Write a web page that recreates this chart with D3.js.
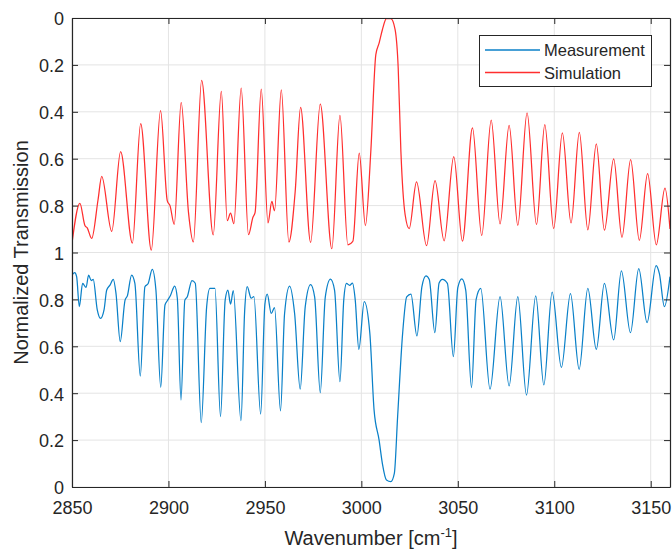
<!DOCTYPE html>
<html>
<head>
<meta charset="utf-8">
<script src="https://cdn.jsdelivr.net/npm/d3@7"></script>
<style>
  html, body { margin: 0; padding: 0; background: #fff; }
  svg { display: block; font-family: "Liberation Sans", Arial, Helvetica, sans-serif; }
</style>
</head>
<body>
<svg id="chart" width="672" height="549"></svg>
<script>
// Simulated spectrum (transmission), plotted inverted in the upper half
const simWavenumber = [
  2850.0, 2854.1, 2856.7, 2857.9, 2860.2, 2863.5, 2865.4, 2870.6, 2875.2, 2881.3,
  2885.6, 2891.1, 2895.9, 2899.4, 2900.8, 2903.0, 2906.6, 2910.4, 2912.9, 2917.2,
  2923.2, 2927.4, 2930.5, 2932.2, 2933.9, 2937.7, 2941.5, 2943.8, 2944.9, 2948.1,
  2951.6, 2953.6, 2955.0, 2958.5, 2962.4, 2965.7, 2968.5, 2973.7, 2978.7, 2984.7,
  2988.9, 2993.0, 2995.6, 2998.9, 3002.1, 3004.9, 3007.5, 3009.2, 3010.9, 3013.0,
  3015.3, 3017.5, 3019.1, 3020.5, 3022.7, 3024.8, 3028.6, 3033.8, 3038.2, 3042.9,
  3047.9, 3052.4, 3057.6, 3062.4, 3067.3, 3071.9, 3076.6, 3081.1, 3085.9, 3090.8,
  3095.1, 3099.7, 3104.2, 3108.7, 3113.0, 3117.4, 3121.8, 3126.0, 3130.8, 3135.1,
  3139.6, 3144.1, 3148.4, 3152.9, 3157.4, 3160.0
];
const simTransmission = [
  0.96, 0.79, 0.885, 0.895, 0.94, 0.775, 0.675, 0.91, 0.57, 0.96,
  0.45, 0.99, 0.395, 0.78, 0.80, 0.88, 0.36, 0.83, 0.955, 0.266,
  0.925, 0.313, 0.864, 0.832, 0.877, 0.299, 0.924, 0.85, 0.83, 0.303,
  0.874, 0.782, 0.822, 0.306, 0.955, 0.74, 0.381, 0.957, 0.367, 0.984,
  0.415, 0.967, 0.952, 0.576, 0.885, 0.569, 0.156, 0.107, 0.05, 0.003,
  0.003, 0.05, 0.213, 0.569, 0.839, 0.898, 0.699, 0.971, 0.694, 0.95,
  0.591, 0.952, 0.469, 0.928, 0.435, 0.878, 0.458, 0.884, 0.405, 0.881,
  0.455, 0.898, 0.49, 0.874, 0.488, 0.903, 0.537, 0.905, 0.601, 0.935,
  0.604, 0.948, 0.664, 0.967, 0.725, 0.90
];

// Measured spectrum (transmission), plotted in the lower half
const measWavenumber = [
  2850.0, 2851.4, 2852.4, 2853.8, 2855.5, 2857.3, 2858.6, 2860.0, 2861.0, 2863.1,
  2864.8, 2866.6, 2868.0, 2869.7, 2871.4, 2872.8, 2875.0, 2877.5, 2878.7, 2880.9,
  2882.6, 2885.4, 2887.8, 2889.5, 2891.6, 2893.5, 2896.0, 2898.2, 2899.4, 2901.1,
  2903.2, 2904.6, 2906.5, 2908.5, 2909.7, 2912.2, 2913.9, 2917.0, 2919.8, 2921.5,
  2924.1, 2927.0, 2929.4, 2930.8, 2932.2, 2933.6, 2937.6, 2939.5, 2940.8, 2942.9,
  2944.3, 2947.8, 2950.0, 2951.2, 2953.3, 2955.0, 2958.1, 2960.2, 2962.8, 2965.4,
  2968.3, 2970.9, 2973.7, 2975.8, 2978.7, 2981.3, 2984.0, 2986.1, 2988.9, 2990.9,
  2992.3, 2993.9, 2995.4, 2996.8, 2998.7, 3001.5, 3004.4, 3006.6, 3009.2, 3010.9,
  3013.0, 3015.3, 3017.1, 3018.8, 3021.4, 3023.5, 3025.7, 3028.8, 3031.4, 3033.5,
  3035.2, 3038.1, 3040.3, 3042.0, 3044.6, 3047.7, 3050.0, 3052.1, 3054.1, 3057.1,
  3059.5, 3061.9, 3066.7, 3071.9, 3076.6, 3081.1, 3085.6, 3090.4, 3094.6, 3098.9,
  3103.7, 3108.4, 3112.9, 3117.4, 3121.8, 3126.0, 3130.8, 3134.8, 3139.5, 3143.8,
  3148.1, 3152.8, 3154.5, 3157.1, 3160.0
];
const measTransmission = [
  0.904, 0.914, 0.897, 0.769, 0.868, 0.851, 0.904, 0.880, 0.885, 0.755,
  0.719, 0.755, 0.84, 0.861, 0.885, 0.826, 0.62, 0.797, 0.815, 0.904,
  0.868, 0.473, 0.854, 0.868, 0.928, 0.84, 0.425, 0.776, 0.794, 0.818,
  0.857, 0.805, 0.371, 0.797, 0.81, 0.880, 0.869, 0.274, 0.768, 0.847,
  0.847, 0.30, 0.797, 0.84, 0.78, 0.837, 0.283, 0.75, 0.854, 0.805,
  0.812, 0.311, 0.78, 0.822, 0.74, 0.765, 0.325, 0.74, 0.857, 0.74,
  0.417, 0.768, 0.863, 0.81, 0.402, 0.81, 0.886, 0.84, 0.449, 0.80,
  0.868, 0.86, 0.869, 0.80, 0.587, 0.79, 0.655, 0.328, 0.20, 0.10,
  0.03, 0.023, 0.058, 0.30, 0.655, 0.811, 0.823, 0.644, 0.854, 0.90,
  0.885, 0.658, 0.87, 0.885, 0.868, 0.556, 0.85, 0.887, 0.84, 0.424,
  0.80, 0.847, 0.417, 0.812, 0.431, 0.812, 0.392, 0.815, 0.435, 0.831,
  0.51, 0.825, 0.502, 0.847, 0.587, 0.868, 0.627, 0.922, 0.658, 0.931,
  0.701, 0.944, 0.91, 0.769, 0.897
];

const xTicks = [2850, 2900, 2950, 3000, 3050, 3100, 3150];
const yTicks = [0, 0.2, 0.4, 0.6, 0.8, 1, 1.2, 1.4, 1.6, 1.8, 2];
const seriesNames = ["Measurement", "Simulation"];
const seriesColors = ["#0a80c8", "#ff2e2e"];

const svg = d3.select("#chart");
const plotLeft = 72, plotRight = 670, plotTop = 18, plotBottom = 487;
const axisColor = "#262626";

const x = d3.scaleLinear().domain([2850, 3160]).range([plotLeft, plotRight]);
// Combined vertical scale: 0..1 measurement, 1..2 inverted simulation
const y = d3.scaleLinear().domain([0, 2]).range([plotBottom, plotTop]);

// Grid
const grid = svg.append("g");
grid.selectAll("line.gx").data(xTicks).join("line")
  .attr("x1", d => x(d)).attr("x2", d => x(d))
  .attr("y1", plotTop).attr("y2", plotBottom)
  .attr("stroke", "#e4e4e4").attr("stroke-width", 1);
grid.selectAll("line.gy").data(yTicks).join("line")
  .attr("x1", plotLeft).attr("x2", plotRight)
  .attr("y1", d => y(d)).attr("y2", d => y(d))
  .attr("stroke", "#e4e4e4").attr("stroke-width", 1);

// Curves
svg.append("clipPath").attr("id", "plot-clip")
  .append("rect").attr("x", plotLeft).attr("y", plotTop - 2)
  .attr("width", plotRight - plotLeft).attr("height", plotBottom - plotTop + 4);

const line = d3.line().curve(d3.curveMonotoneX);

const measPts = measWavenumber.map((w, i) => [x(w), y(measTransmission[i])]);
const simPts = simWavenumber.map((w, i) => [x(w), y(2 - simTransmission[i])]);

const curves = svg.append("g").attr("clip-path", "url(#plot-clip)");
curves.append("path").attr("d", line(measPts))
  .attr("fill", "none").attr("stroke", seriesColors[0]).attr("stroke-width", 1.25);
curves.append("path").attr("d", line(simPts))
  .attr("fill", "none").attr("stroke", seriesColors[1]).attr("stroke-width", 1.25);

// Axes
const fmtY = d => {
  const v = d <= 1 ? d : 2 - d;
  return d3.format("~g")(+v.toFixed(1));
};

const gx = svg.append("g").attr("transform", `translate(0,${plotBottom})`)
  .call(d3.axisBottom(x).tickValues(xTicks).tickFormat(d3.format("d"))
    .tickSizeInner(-6).tickSizeOuter(0).tickPadding(14));
const gy = svg.append("g").attr("transform", `translate(${plotLeft},0)`)
  .call(d3.axisLeft(y).tickValues(yTicks).tickFormat(fmtY)
    .tickSizeInner(-6).tickSizeOuter(0).tickPadding(8));
const gt = svg.append("g").attr("transform", `translate(0,${plotTop})`)
  .call(d3.axisTop(x).tickValues(xTicks).tickFormat("")
    .tickSizeInner(-6).tickSizeOuter(0));
const gr = svg.append("g").attr("transform", `translate(${plotRight},0)`)
  .call(d3.axisRight(y).tickValues(yTicks).tickFormat("")
    .tickSizeInner(-6).tickSizeOuter(0));

[gx, gy, gt, gr].forEach(g => {
  g.selectAll("path.domain").attr("stroke", axisColor).attr("stroke-width", 1.2);
  g.selectAll(".tick line").attr("stroke", axisColor).attr("stroke-width", 1);
  g.selectAll(".tick text").attr("fill", axisColor)
    .style("font-size", "18px").style("font-family", "'Liberation Sans', Arial, sans-serif");
});
gy.selectAll(".tick text").attr("dy", "0.38em");
gx.selectAll(".tick text").attr("dy", "0.71em");

// Axis titles
svg.append("text")
  .attr("transform", `translate(28,${(plotTop + plotBottom) / 2}) rotate(-90)`)
  .attr("text-anchor", "middle").attr("fill", axisColor)
  .style("font-size", "20px")
  .text("Normalized Transmission");

const xt = svg.append("text")
  .attr("x", (plotLeft + plotRight) / 2).attr("y", 545)
  .attr("text-anchor", "middle").attr("fill", axisColor)
  .style("font-size", "20px");
xt.append("tspan").text("Wavenumber [cm");
xt.append("tspan").attr("dy", -8).style("font-size", "13px").text("-1");
xt.append("tspan").attr("dy", 8).text("]");

// Legend
const lg = svg.append("g");
lg.append("rect").attr("x", 479.5).attr("y", 35.5).attr("width", 172).attr("height", 51)
  .attr("fill", "#fff").attr("stroke", axisColor).attr("stroke-width", 1);
seriesNames.forEach((name, i) => {
  const ly = 50 + i * 22.5;
  lg.append("line").attr("x1", 485).attr("x2", 540).attr("y1", ly).attr("y2", ly)
    .attr("stroke", seriesColors[i]).attr("stroke-width", 1.3);
  lg.append("text").attr("x", 544).attr("y", ly + 6.3)
    .attr("fill", axisColor).style("font-size", "16.5px").text(name);
});
</script>
</body>
</html>
